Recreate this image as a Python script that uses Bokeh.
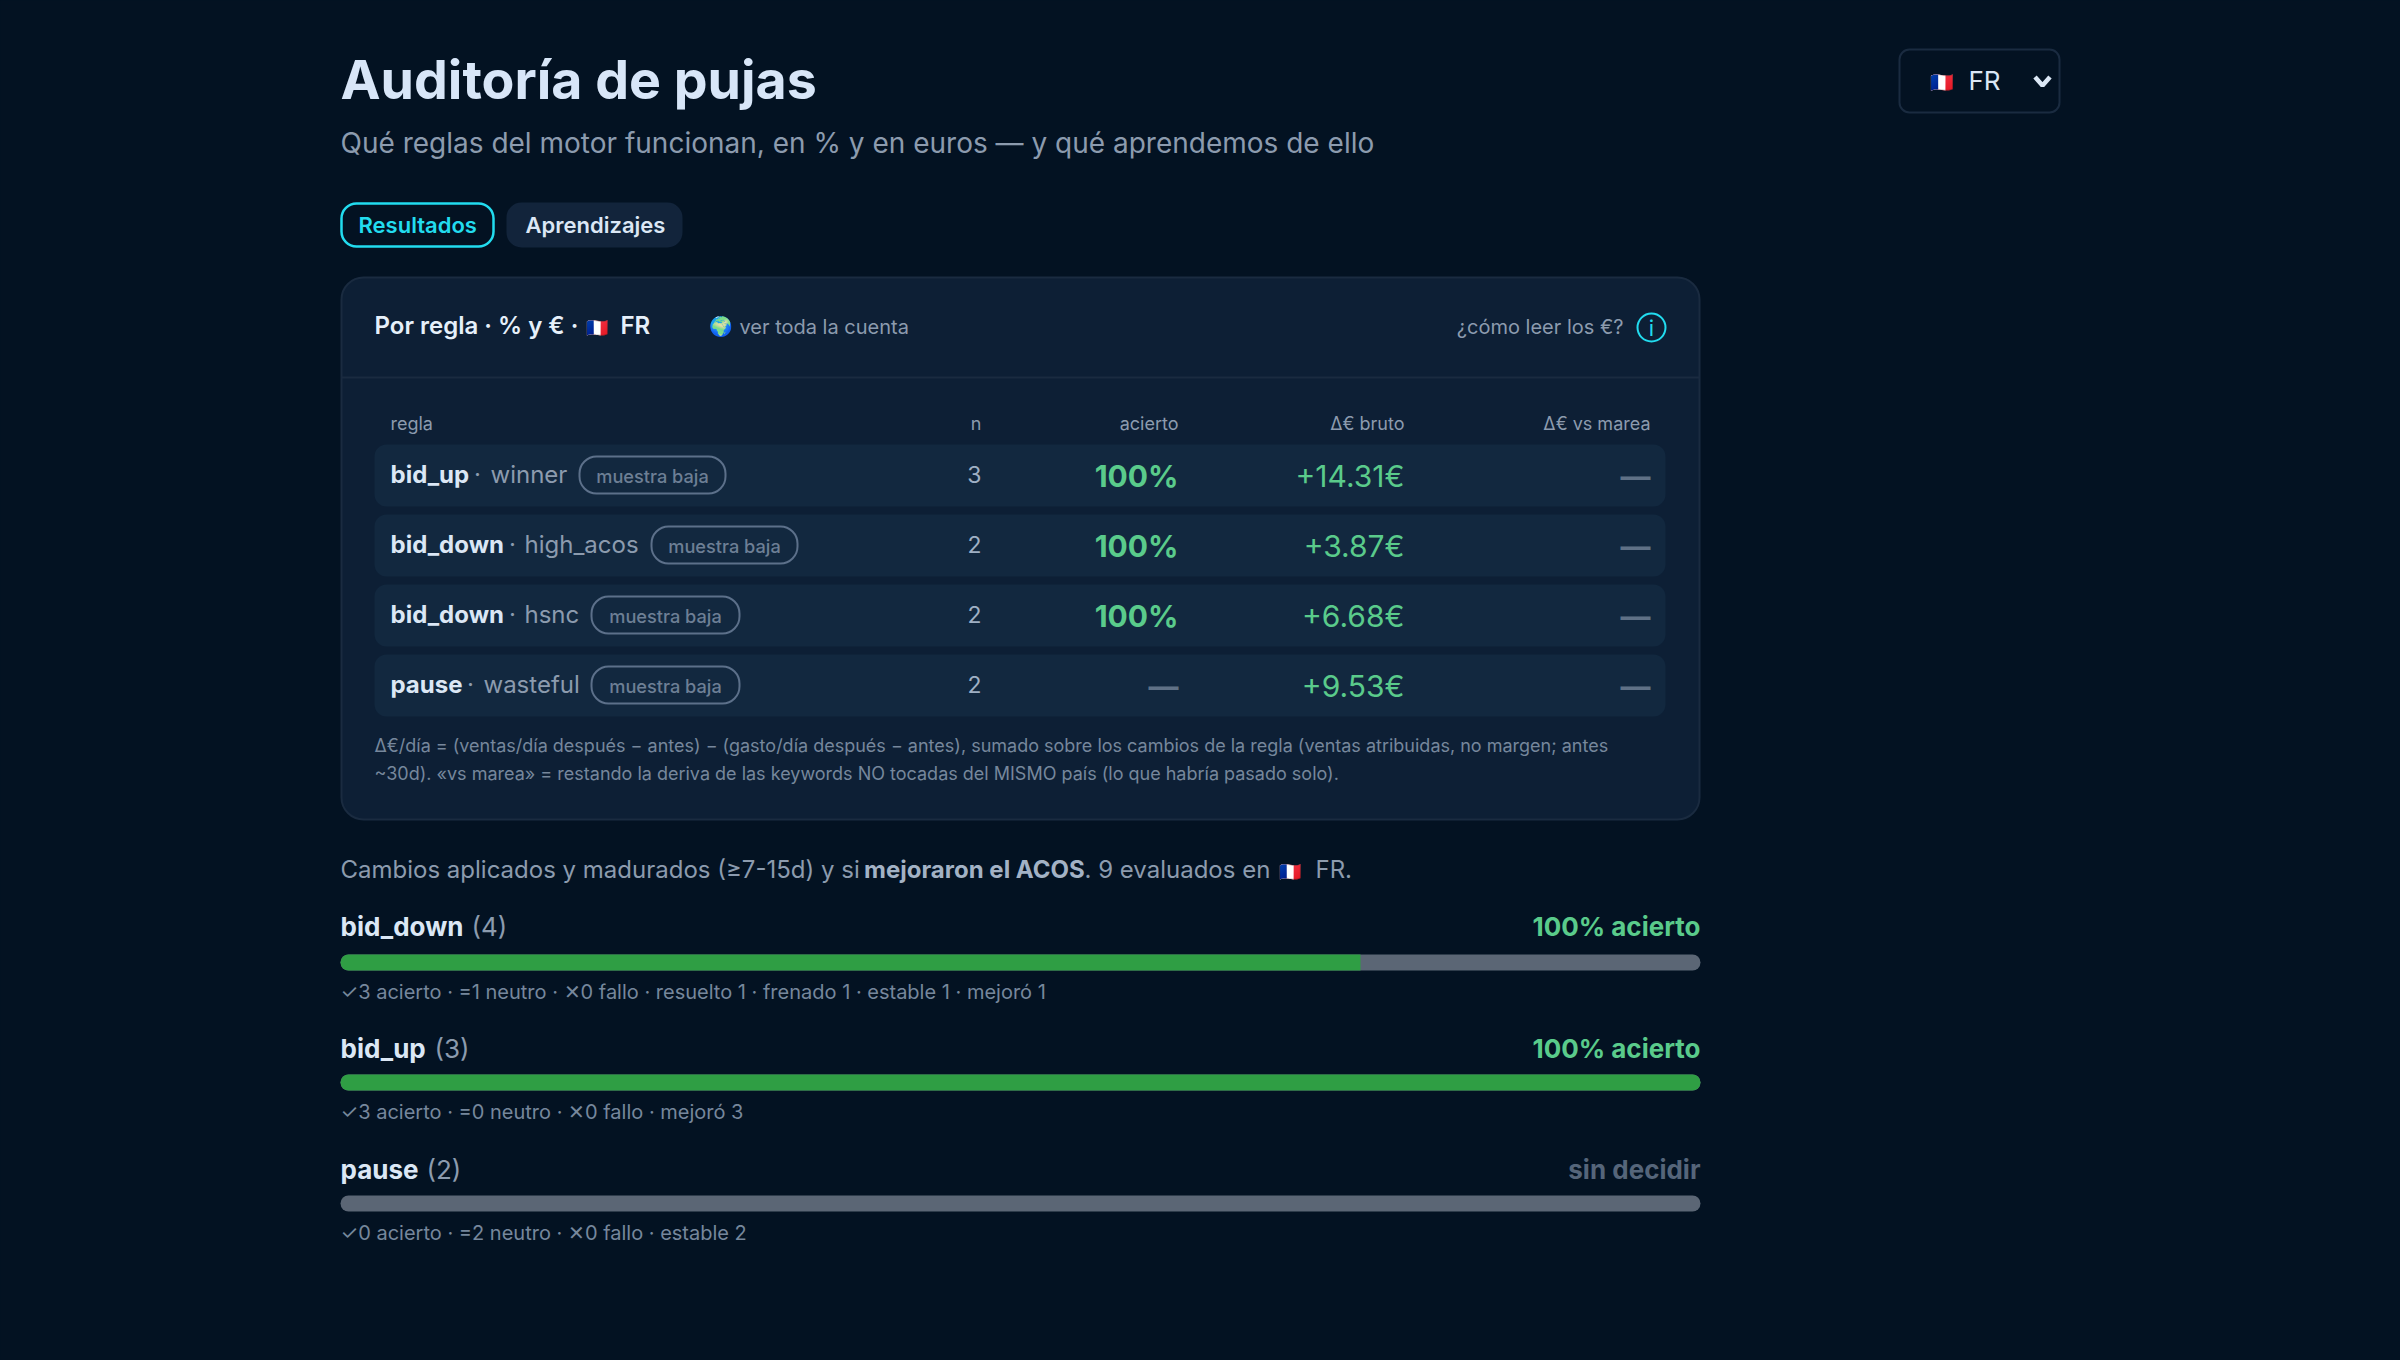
from bokeh.core.properties import value
from bokeh.embed import file_html
from bokeh.models import Range1d
from bokeh.plotting import figure
from bokeh.resources import INLINE

# table "por regla"
rule_names = ["bid_up", "bid_down", "bid_down", "pause"]
rule_variants = ["winner", "high_acos", "hsnc", "wasteful"]
rule_badges = ["muestra baja", "muestra baja", "muestra baja", "muestra baja"]
rule_n = ["3", "2", "2", "2"]
rule_hit = ["100%", "100%", "100%", "—"]
rule_gross = ["+14.31€", "+3.87€", "+6.68€", "+9.53€"]
rule_tide = ["—", "—", "—", "—"]
table_headers = ["regla", "n", "acierto", "Δ€ bruto", "Δ€ vs marea"]

# progress bars
group_names = ["bid_down", "bid_up", "pause"]
group_counts = [4, 3, 2]
group_hits = [3, 3, 0]
group_neutral = [1, 0, 2]
group_fails = [0, 0, 0]
group_verdicts = ["100% acierto", "100% acierto", "sin decidir"]
group_details = [
    "resuelto 1 · frenado 1 · estable 1 · mejoró 1",
    "mejoró 3",
    "estable 2",
]

title_text = "Auditoría de pujas"
subtitle_text = "Qué reglas del motor funcionan, en % y en euros — y qué aprendemos de ello"
note_lines = [
    "Δ€/día = (ventas/día después − antes) − (gasto/día después − antes), sumado sobre los cambios de la regla (ventas atribuidas, no margen; antes",
    "~30d). «vs marea» = restando la deriva de las keywords NO tocadas del MISMO país (lo que habría pasado solo).",
]

BG = "#031222"
CARD = "#0d1f35"
ROW = "#12283f"
EDGE = "#1a2b40"
CYAN = "#22dcef"
TEXT = "#dbe7f5"
MUTED = "#8c9bae"
DIM = "#76879c"
GREEN = "#5acb8b"
BAR_GREEN = "#2f9e44"
BAR_GREY = "#5b6675"

p = figure(
    width=2400,
    height=1360,
    x_range=Range1d(0, 2400),
    y_range=Range1d(1360, 0),
    toolbar_location=None,
    output_backend="svg",
    min_border=0,
)
p.axis.visible = False
p.grid.visible = False
p.outline_line_color = None
p.background_fill_color = BG
p.border_fill_color = BG
p.styles = {"background-color": BG}

FAMILIES = {"semi": "Inter SemiBold", "medium": "Inter Medium"}


def put(x, y, s, size, color, weight="normal", align="left"):
    # bokeh draws the alphabetic baseline a bit under y
    p.text(
        x=[x], y=[y - 0.35 * size], text=[s],
        text_font=value(FAMILIES.get(weight, "Inter")),
        text_font_size="%gpx" % size,
        text_font_style="bold" if weight == "bold" else "normal",
        text_color=color,
        text_align=align,
        text_baseline="alphabetic",
    )


def box(x0, x1, y0, y1, fill=None, line=None, line_width=2, radius=0):
    p.quad(
        left=[x0], right=[x1], top=[y0], bottom=[y1],
        fill_color=fill, line_color=line, line_width=line_width,
        border_radius=radius,
    )


# header
put(340, 98, title_text, 53.7, "#d8e6f8", weight="bold")
put(340, 152, subtitle_text, 28, MUTED)

box(1899, 2059, 49, 112, line=EDGE, radius=10)
put(1929, 89, "🇫🇷", 19, TEXT)
put(1968, 89, "FR", 26, TEXT)
p.line(x=[2034.5, 2042, 2049.5], y=[76.5, 85, 76.5], line_color=TEXT, line_width=4.5)

# tabs
box(341, 493, 203, 246, fill=BG, line=CYAN, line_width=2.5, radius=15)
put(358, 232, "Resultados", 22, CYAN, weight="semi")
box(506, 682, 202, 247, fill="#12243b", radius=15)
put(525, 232, "Aprendizajes", 22, TEXT, weight="semi")

# card
box(341, 1699, 277, 819, fill=CARD, line=EDGE, radius=22)
p.line(x=[341, 1699], y=[377, 377], line_color=EDGE, line_width=2)
put(374, 333, "Por regla · % y € · ", 24, "#e6f0fa", weight="semi")
put(585, 333, "🇫🇷", 18, TEXT)
put(620, 333, "FR", 24, "#e6f0fa", weight="semi")
put(708, 333, "🌍", 19, TEXT)
put(739, 333, "ver toda la cuenta", 20, MUTED)
put(1623, 333, "¿cómo leer los €?", 20, MUTED, align="right")
p.circle(x=[1651], y=[327], radius=14, fill_color=None, line_color=CYAN, line_width=2)
put(1651, 335, "i", 22, CYAN, align="center")

# table
header_x = [390, 981, 1178, 1404, 1650]
header_align = ["left", "right", "right", "right", "right"]
for hx, ha, label in zip(header_x, header_align, table_headers):
    put(hx, 429.5, label, 18, MUTED, align=ha)

dot_x = [477, 512, 512, 470]
variant_x = [490, 524, 524, 483]
badge_x0 = [579, 651, 591, 591]
badge_x1 = [725, 797, 739, 739]
for i in range(len(rule_names)):
    top = 444 + 70 * i
    box(374, 1665, top, top + 62, fill=ROW, radius=12)
    put(390, top + 38, rule_names[i], 24, TEXT, weight="bold")
    put(dot_x[i], top + 38, "·", 24, MUTED, align="center")
    put(variant_x[i], top + 38, rule_variants[i], 24, MUTED)
    box(badge_x0[i], badge_x1[i], top + 12, top + 49, line="#5c708a", radius=17)
    put((badge_x0[i] + badge_x1[i]) / 2, top + 38, rule_badges[i], 18.2, "#6d7f95", weight="medium", align="center")
    put(981, top + 38, rule_n[i], 23, "#9fb0c4", align="right")
    hit_color = "#5f7186" if rule_hit[i] == "—" else GREEN
    put(1178, top + 42, rule_hit[i], 30, hit_color, weight="bold", align="right")
    put(1404, top + 42, rule_gross[i], 30, GREEN, align="right")
    put(1650, top + 42, rule_tide[i], 30, "#5f7186", weight="bold", align="right")

put(374, 751.5, note_lines[0], 18, DIM)
put(374, 779.5, note_lines[1], 18, DIM)

# paragraph
put(340, 877, "Cambios aplicados y madurados (≥7-15d) y si ", 24, MUTED)
put(863.5, 877, "mejoraron el ACOS", 24, "#a3b2c5", weight="bold")
put(1084, 877, ". 9 evaluados en", 24, MUTED)
put(1278, 877, "🇫🇷", 18, TEXT)
put(1315, 877, "FR.", 24, MUTED)

# bars
BAR_X0 = 340
BAR_W = 1360
count_x = [471, 434, 426]
label_y = [935.5, 1057.5, 1178]
for i in range(len(group_names)):
    y0 = 954 + 121 * i - (i > 0)
    put(340, label_y[i], group_names[i], 26, TEXT, weight="bold")
    put(count_x[i], label_y[i], "(%d)" % group_counts[i], 26, MUTED)
    verdict_color = "#55657a" if group_hits[i] == 0 else GREEN
    put(1700, label_y[i], group_verdicts[i], 26, verdict_color, weight="bold", align="right")

    box(BAR_X0, BAR_X0 + BAR_W, y0, y0 + 16, fill=BAR_GREY, radius=8)
    share = group_hits[i] / group_counts[i]
    if share > 0:
        corners = 8 if share == 1 else (8, 0, 0, 8)
        box(BAR_X0, BAR_X0 + BAR_W * share, y0, y0 + 16, fill=BAR_GREEN, radius=corners)

    detail = "✓%d acierto · =%d neutro · ✕%d fallo · %s" % (
        group_hits[i], group_neutral[i], group_fails[i], group_details[i])
    put(340, y0 + 44, detail, 20, DIM)

open("out.html", "w").write(file_html(p, INLINE))
